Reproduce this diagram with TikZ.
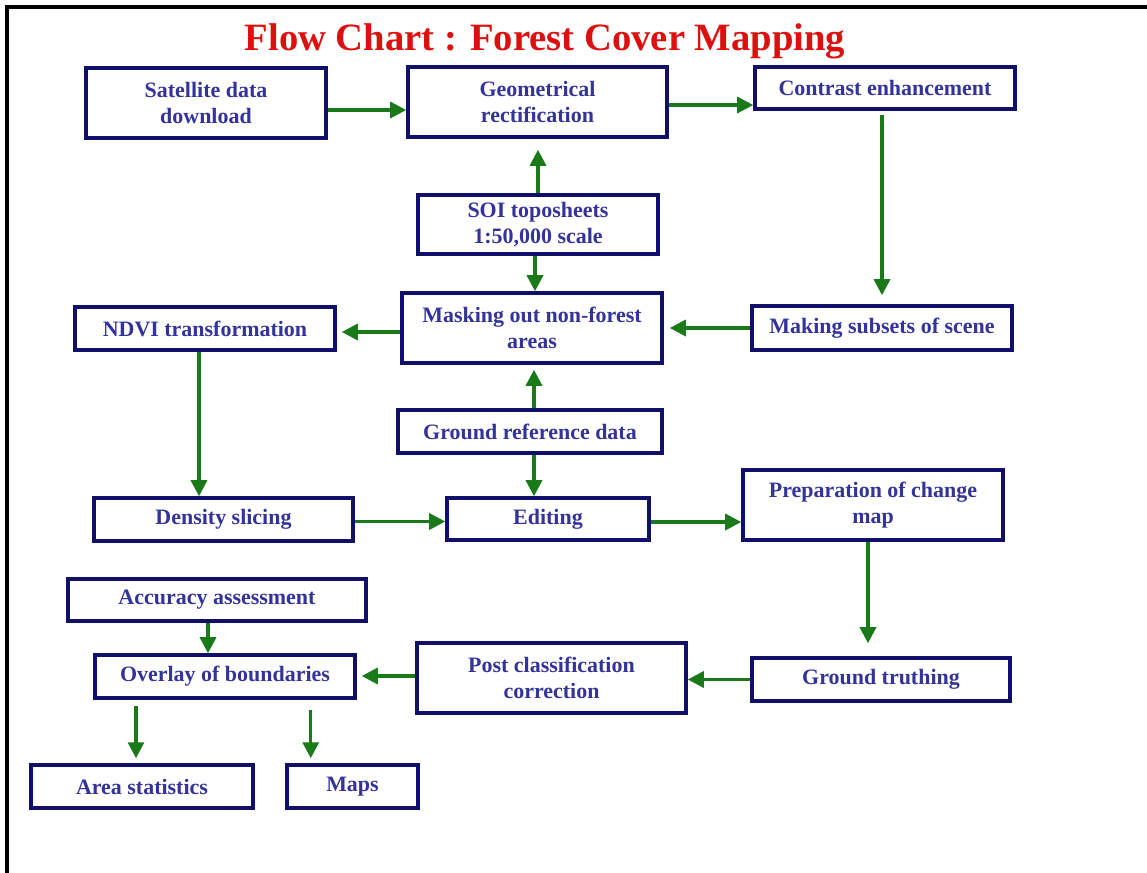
\documentclass[tikz,border=0pt]{standalone}
\usepackage{fontspec}
\setmainfont{Liberation Serif}
\usepackage{tikz}
\usetikzlibrary{arrows.meta}

\definecolor{boxline}{HTML}{10106A}
\definecolor{boxtext}{HTML}{33339A}
\definecolor{arrgreen}{HTML}{1A7A1A}
\definecolor{titlered}{HTML}{DD1010}

\tikzset{
  box/.style={draw=boxline, line width=2pt, fill=white, text=boxtext,
    align=center, inner sep=0pt, minimum height=0.86cm,
    font=\bfseries\fontsize{12.5}{14.8}\selectfont},
  tallbox/.style={box, minimum height=1.4cm},
  arr/.style={draw=arrgreen, line width=1.9pt,
    -{Triangle[length=0.32cm,width=0.32cm]}}
}

\begin{document}
\begin{tikzpicture}

    \useasboundingbox (0,0) rectangle (22.94,-17.46);

    \draw[line width=2.2pt] (0.14,-17.46) -- (0.14,-0.14) -- (22.94,-0.14);

    \node[anchor=base, text=titlered, font=\bfseries\fontsize{22}{26}\selectfont] (title) at (10.9,-1.0) {Flow Chart : Forest Cover Mapping};


    \node[tallbox, minimum width=4.8cm] (sat) at (4.12,-2.06) {Satellite data\\download};

    \node[tallbox, minimum width=5.18cm] (geo) at (10.75,-2.04) {Geometrical\\rectification};

    \node[box, minimum width=5.2cm, minimum height=0.84cm] (con) at (17.7,-1.76) {Contrast enhancement};

    \node[box, minimum width=4.8cm, minimum height=1.18cm] (soi) at (10.76,-4.49) {SOI toposheets\\ 1:50,000 scale};

    \node[tallbox, minimum width=5.2cm] (mask) at (10.64,-6.56) {Masking out non-forest\\areas};

    \node[box, minimum width=5.2cm, minimum height=0.88cm] (sub) at (17.64,-6.56) {Making subsets of scene};

    \node[box, minimum width=5.2cm] (ndvi) at (4.1,-6.57) {NDVI transformation};

    \node[box, minimum width=5.28cm] (gref) at (10.6,-8.63) {Ground reference data};

    \node[box, minimum width=5.18cm] (den) at (4.47,-10.39) {Density slicing};

    \node[box, minimum width=4.04cm, minimum height=0.84cm] (edit) at (10.96,-10.38) {Editing};

    \node[tallbox, minimum width=5.2cm] (prep) at (17.46,-10.1) {Preparation of change\\map};

    \node[box, minimum width=5.96cm, minimum height=0.84cm] (acc) at (4.34,-12.0) {Accuracy assessment};

    \node[box, minimum width=5.2cm] (ov) at (4.5,-13.53) {Overlay of boundaries};

    \node[tallbox, minimum width=5.38cm] (post) at (11.03,-13.56) {Post classification\\correction};

    \node[box, minimum width=5.16cm] (gt) at (17.62,-13.59) {Ground truthing};

    \node[box, minimum width=4.44cm] (area) at (2.84,-15.73) {Area statistics};

    \node[box, minimum width=2.62cm] (maps) at (7.05,-15.73) {Maps};


    \draw[arr] ([yshift=-0.14cm]sat.east) -- ([yshift=-0.14cm]sat.east -| geo.west);

    \draw[arr] ([yshift=-0.06cm]geo.east) -- ([yshift=-0.06cm]geo.east -| con.west);

    \draw[arr, shorten <=0.08cm, shorten >=0.18cm] (con.south -| sub.north) -- (sub.north);

    \draw[arr, shorten >=0.22cm] (soi.north) -- (soi.north |- geo.south);

    \draw[arr] ([xshift=-0.06cm]soi.south) -- ([xshift=-0.06cm]soi.south |- mask.north);

    \draw[arr, shorten >=0.12cm] (sub.west) -- (sub.west -| mask.east);

    \draw[arr, shorten >=0.1cm] ([yshift=-0.08cm]mask.west) -- ([yshift=-0.08cm]mask.west -| ndvi.east);

    \draw[arr, shorten >=0.1cm] ([xshift=0.08cm]gref.north) -- ([xshift=0.08cm]gref.north |- mask.south);

    \draw[arr] ([xshift=-0.12cm]ndvi.south) -- ([xshift=-0.12cm]ndvi.south |- den.north);

    \draw[arr] ([xshift=0.08cm]gref.south) -- ([xshift=0.08cm]gref.south |- edit.north);

    \draw[arr] ([yshift=-0.04cm]den.east) -- ([yshift=-0.04cm]den.east -| edit.west);

    \draw[arr] ([yshift=-0.06cm]edit.east) -- ([yshift=-0.06cm]edit.east -| prep.west);

    \draw[arr, shorten >=0.26cm] ([xshift=-0.1cm]prep.south) -- ([xshift=-0.1cm]prep.south |- gt.north);

    \draw[arr] (gt.west) -- (gt.west -| post.east);

    \draw[arr, shorten >=0.1cm] ([yshift=0.04cm]post.west) -- ([yshift=0.04cm]post.west -| ov.east);

    \draw[arr] ([xshift=-0.18cm]acc.south) -- ([xshift=-0.18cm]acc.south |- ov.north);

    \draw[arr, shorten <=0.12cm, shorten >=0.1cm] (ov.south -| area.north) ++(-0.12,0) coordinate (a1) (a1) -- (a1 |- area.north);

    \draw[arr, shorten <=0.2cm, shorten >=0.1cm] ([xshift=-0.92cm]ov.south east) -- ([xshift=-0.92cm]ov.south east |- maps.north);

  \end{tikzpicture}
\end{document}
